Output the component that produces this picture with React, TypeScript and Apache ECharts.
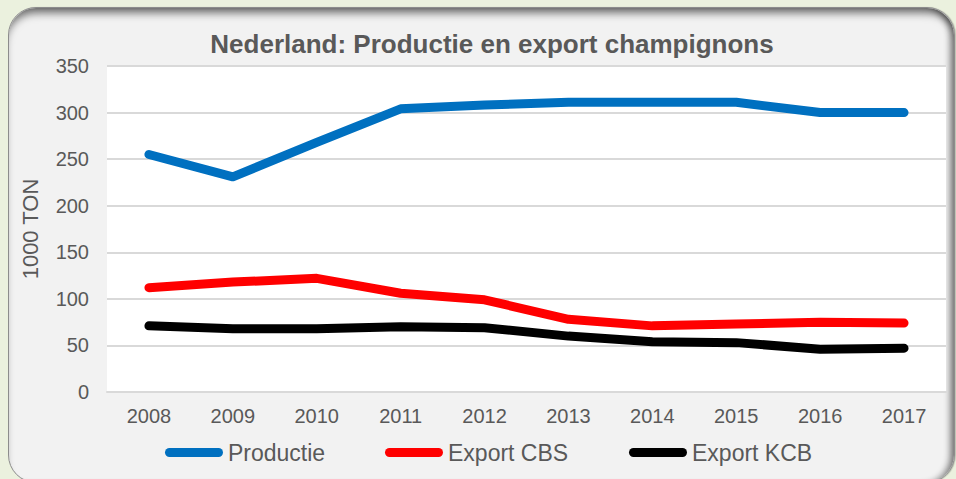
import React, { useEffect, useRef } from "react";
import * as echarts from "echarts";

const years = ["2008", "2009", "2010", "2011", "2012", "2013", "2014", "2015", "2016", "2017"];
const productie = [255, 231, 268, 304, 308, 311, 311, 311, 300, 300];
const exportCBS = [112, 118, 122, 106, 99, 78, 71, 73, 75, 74];
const exportKCB = [71, 68, 68, 70, 69, 60, 54, 53, 46, 47];
const seriesNames = ["Productie", "Export CBS", "Export KCB"];
const seriesColors = ["#0070c0", "#ff0000", "#000000"];

const pill = "path://M4.5,0 L53.5,0 A4.5,4.5 0 0 1 53.5,9 L4.5,9 A4.5,4.5 0 0 1 4.5,0 Z";

export default function App() {
  const ref = useRef<HTMLDivElement>(null);
  useEffect(() => {
    if (!ref.current) return;
    const chart = echarts.init(ref.current, undefined, { renderer: "svg" });
    const font = "Liberation Sans, Arial, sans-serif";
    const legendLefts = [165, 385, 629];
    const dataSets = [productie, exportCBS, exportKCB];
    chart.setOption({
      animation: false,
      backgroundColor: "transparent",
      title: {
        text: "Nederland: Productie en export champignons",
        left: 487,
        top: 26,
        textAlign: "center",
        textStyle: { fontFamily: font, fontSize: 26, fontWeight: "bold", color: "#595959" },
      },
      grid: {
        left: 107,
        top: 66,
        width: 839,
        height: 326,
        show: true,
        backgroundColor: "#ffffff",
        borderWidth: 0,
      },
      legend: seriesNames.map((n, i) => ({
        data: [n],
        left: legendLefts[i],
        top: 441,
        padding: 0,
        icon: pill,
        itemWidth: 58,
        itemHeight: 9,
        itemGap: 0,
        textStyle: { fontFamily: font, fontSize: 23, color: "#595959" },
      })),
      xAxis: {
        type: "category",
        data: years,
        boundaryGap: true,
        axisLine: { show: true, lineStyle: { color: "#d9d9d9", width: 2 } },
        axisTick: { show: false },
        axisLabel: { fontFamily: font, fontSize: 20, color: "#595959", margin: 14 },
      },
      yAxis: {
        type: "value",
        min: 0,
        max: 350,
        interval: 50,
        name: "1000 TON",
        nameLocation: "middle",
        nameGap: 66,
        nameTextStyle: { fontFamily: font, fontSize: 22, color: "#595959" },
        axisLine: { show: false },
        axisTick: { show: false },
        splitLine: { lineStyle: { color: "#d9d9d9", width: 2 } },
        axisLabel: { fontFamily: font, fontSize: 20, color: "#595959", margin: 18 },
      },
      series: seriesNames.map((n, i) => ({
        name: n,
        type: "line",
        data: dataSets[i],
        symbol: "none",
        showSymbol: false,
        color: seriesColors[i],
        lineStyle: { color: seriesColors[i], width: 9, cap: "round", join: "round" },
        z: 3 - i,
      })),
    });
    return () => chart.dispose();
  }, []);

  return (
    <div
      style={{
        position: "fixed",
        left: 0,
        top: 0,
        width: 956,
        height: 479,
        background: "#ebf1de",
        overflow: "hidden",
      }}
    >
      <div
        style={{
          position: "absolute",
          left: 8,
          top: 7,
          width: 945,
          height: 474,
          borderRadius: 28,
          border: "1.5px solid #8c8c8c",
          background: "#f2f2f2",
          boxShadow:
            "inset 0 9px 9px -4px rgba(0,0,0,0.55), inset -7px 0 6px -3px rgba(0,0,0,0.45), 1px 0 1px rgba(0,0,0,0.2)",
        }}
      />
      <div ref={ref} style={{ position: "absolute", left: 0, top: 0, width: 956, height: 479 }} />
    </div>
  );
}
